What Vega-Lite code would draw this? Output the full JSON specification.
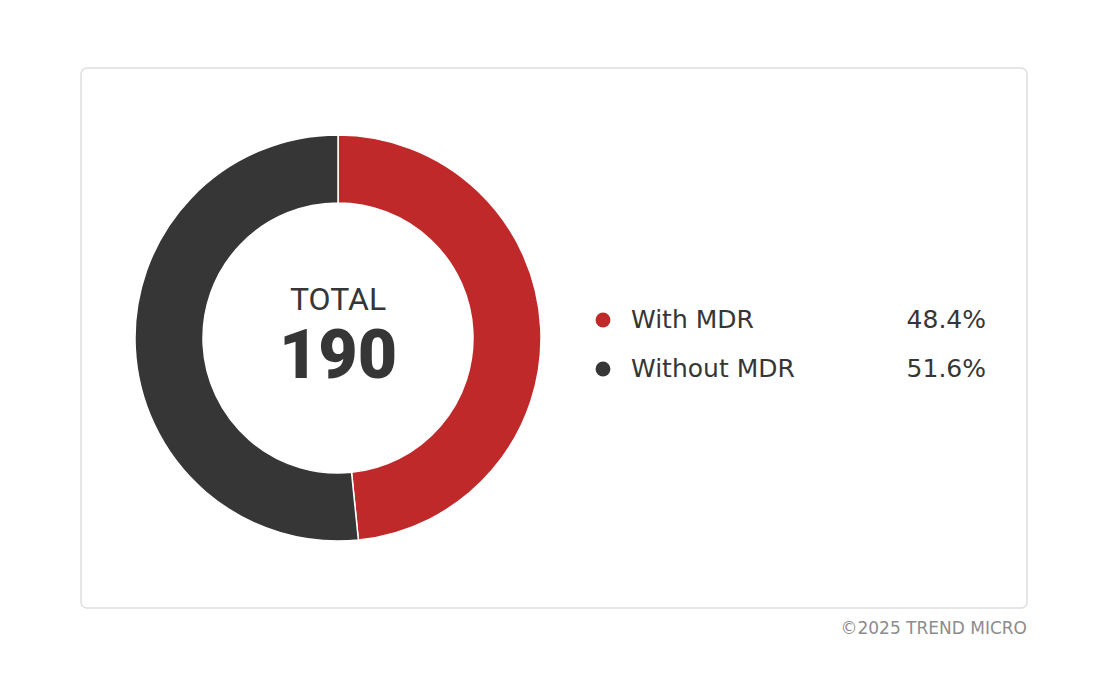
{
  "$schema": "https://vega.github.io/schema/vega-lite/v6.json",
  "width": 946,
  "height": 540,
  "autosize": {"type": "none"},
  "padding": {"left": 81, "top": 68, "right": 81, "bottom": 68},
  "background": "white",
  "title": {
    "text": "©2025 TREND MICRO",
    "orient": "bottom",
    "anchor": "end",
    "offset": 13,
    "fontSize": 17,
    "fontWeight": "normal",
    "color": "#8c8c8c",
    "font": "DejaVu Sans"
  },
  "data": {
    "values": [
      {"group": "With MDR", "share": 48.4, "label": "48.4%", "rank": 1},
      {"group": "Without MDR", "share": 51.6, "label": "51.6%", "rank": 2}
    ]
  },
  "encoding": {
    "color": {
      "field": "group",
      "type": "nominal",
      "scale": {"domain": ["With MDR", "Without MDR"], "range": ["#c0292a", "#363636"]},
      "legend": null
    }
  },
  "layer": [
    {
      "mark": {"type": "arc", "x": 257, "y": 270, "outerRadius": 203, "innerRadius": 135, "stroke": "white", "strokeWidth": 1.5},
      "encoding": {
        "theta": {"field": "share", "type": "quantitative", "stack": true},
        "order": {"field": "rank", "type": "quantitative"}
      }
    },
    {
      "data": {"values": [{"caption": "TOTAL"}]},
      "mark": {"type": "text", "x": 257, "y": 232, "fontSize": 32, "font": "Roboto", "baseline": "middle", "align": "center"},
      "encoding": {"text": {"field": "caption"}, "color": {"value": "#363636"}}
    },
    {
      "data": {"values": [{"total": 190}]},
      "mark": {"type": "text", "x": 257, "y": 290, "fontSize": 68, "fontWeight": 900, "font": "Roboto", "baseline": "middle", "align": "center"},
      "encoding": {"text": {"field": "total", "type": "quantitative"}, "color": {"value": "#363636"}}
    },
    {
      "mark": {"type": "point", "filled": true, "opacity": 1, "size": 220, "x": 522},
      "encoding": {
        "y": {"field": "group", "type": "nominal", "scale": {"type": "point", "domain": ["With MDR", "Without MDR"], "range": [252, 301], "padding": 0}, "axis": null}
      }
    },
    {
      "mark": {"type": "text", "x": 550, "align": "left", "baseline": "middle", "fontSize": 25, "font": "DejaVu Sans"},
      "encoding": {
        "y": {"field": "group", "type": "nominal"},
        "text": {"field": "group"},
        "color": {"value": "#363636"}
      }
    },
    {
      "mark": {"type": "text", "x": 905, "align": "right", "baseline": "middle", "fontSize": 25, "font": "DejaVu Sans"},
      "encoding": {
        "y": {"field": "group", "type": "nominal"},
        "text": {"field": "label"},
        "color": {"value": "#363636"}
      }
    }
  ],
  "config": {
    "view": {"stroke": "#dedede", "strokeWidth": 1.5, "cornerRadius": 6}
  }
}
